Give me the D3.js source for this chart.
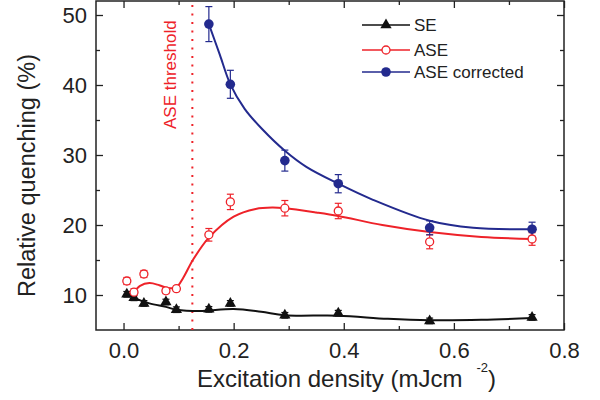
<!DOCTYPE html>
<html>
<head>
<meta charset="utf-8">
<script src="https://cdn.jsdelivr.net/npm/d3@7"></script>
<style>
  body { margin: 0; background: #fff; }
  text { font-family: "Liberation Sans", Arial, Helvetica, sans-serif; fill: #222; }
</style>
</head>
<body>
<div id="chart"></div>
<script>
// measured points (x in mJcm^-2, y in %)
const seX = [0.006, 0.019, 0.037, 0.077, 0.096, 0.155, 0.194, 0.293, 0.39, 0.556, 0.742];
const seY = [10.1, 9.6, 8.8, 9.0, 7.9, 7.95, 8.8, 7.1, 7.4, 6.3, 6.8];
const seErr = [0.4, 0.4, 0.4, 0.4, 0.4, 0.4, 0.4, 0.4, 0.4, 0.4, 0.4];

const aseX = [0.006, 0.019, 0.037, 0.077, 0.096, 0.155, 0.194, 0.293, 0.39, 0.556, 0.742];
const aseY = [12.0, 10.4, 13.0, 10.6, 10.9, 18.6, 23.3, 22.4, 22.0, 17.6, 18.0];
const aseErr = [0.5, 0.5, 0.5, 0.4, 0.4, 0.9, 1.1, 1.1, 1.1, 1.0, 0.9];

const corrX = [0.155, 0.194, 0.293, 0.39, 0.556, 0.742];
const corrY = [48.7, 40.1, 29.2, 25.9, 19.6, 19.4];
const corrErr = [2.5, 2.0, 1.5, 1.3, 1.0, 1.0];

// fitted curves
const seFitX = [0.006, 0.019, 0.047, 0.077, 0.096, 0.138, 0.2, 0.25, 0.293, 0.39, 0.48, 0.556, 0.65, 0.742];
const seFitY = [10.1, 9.6, 8.8, 8.3, 7.9, 7.7, 8.0, 7.6, 7.1, 7.05, 6.6, 6.4, 6.45, 6.7];

const aseFitX = [0.019, 0.03, 0.047, 0.065, 0.08, 0.096, 0.108, 0.126, 0.155, 0.2, 0.24, 0.27, 0.293, 0.35, 0.39, 0.47, 0.556, 0.65, 0.742];
const aseFitY = [10.4, 11.3, 11.7, 11.4, 11.0, 11.1, 12.4, 15.0, 18.2, 21.2, 22.3, 22.5, 22.4, 21.8, 21.3, 20.0, 19.0, 18.3, 18.0];

const corrFitX = [0.155, 0.175, 0.194, 0.22, 0.253, 0.293, 0.332, 0.39, 0.453, 0.556, 0.635, 0.742];
const corrFitY = [48.7, 44.3, 40.1, 36.6, 33.6, 30.6, 28.3, 25.9, 23.6, 20.6, 19.6, 19.4];

const aseThreshold = 0.125;

const xTicks = [0, 0.2, 0.4, 0.6, 0.8];
const xMinor = [0.1, 0.3, 0.5, 0.7];
const yTicks = [10, 20, 30, 40, 50];
const yMinor = [15, 25, 35, 45];

const legendNames = ["SE", "ASE", "ASE corrected"];

const black = "#111", red = "#ee2229", blue = "#232a8e";

const width = 600, height = 400;
const margin = {top: 1, right: 36, bottom: 70, left: 96};

const svg = d3.select("#chart").append("svg")
    .attr("width", width)
    .attr("height", height);

const x = d3.scaleLinear().domain([-0.05, 0.8]).range([margin.left, width - margin.right]);
const y = d3.scaleLinear().domain([5, 52]).range([height - margin.bottom, margin.top]);

const x0 = x.range()[0], x1 = x.range()[1], y0 = y.range()[0], y1 = y.range()[1];

//axes with inward ticks
const xAxis = d3.axisBottom(x).tickValues(xTicks).tickFormat(d3.format(".1f"))
    .tickSizeInner(-7).tickSizeOuter(0).tickPadding(12);
const xAxisG = svg.append("g").attr("transform", `translate(0,${y0})`).call(xAxis);
xAxisG.selectAll("text").style("font-size", "22px");

const xAxisTop = d3.axisTop(x).tickValues(xTicks).tickFormat("").tickSizeInner(-7).tickSizeOuter(0);
svg.append("g").attr("transform", `translate(0,${y1})`).call(xAxisTop);

const yAxis = d3.axisLeft(y).tickValues(yTicks).tickFormat(d3.format("d"))
    .tickSizeInner(-7).tickSizeOuter(0).tickPadding(9);
const yAxisG = svg.append("g").attr("transform", `translate(${x0},0)`).call(yAxis);
yAxisG.selectAll("text").style("font-size", "22px");

const yAxisRight = d3.axisRight(y).tickValues(yTicks).tickFormat("").tickSizeInner(-7).tickSizeOuter(0);
svg.append("g").attr("transform", `translate(${x1},0)`).call(yAxisRight);

// minor ticks
svg.append("g").call(d3.axisBottom(x).tickValues(xMinor).tickFormat("").tickSizeInner(-4).tickSizeOuter(0))
    .attr("transform", `translate(0,${y0})`);
svg.append("g").call(d3.axisTop(x).tickValues(xMinor).tickFormat("").tickSizeInner(-4).tickSizeOuter(0))
    .attr("transform", `translate(0,${y1})`);
svg.append("g").call(d3.axisLeft(y).tickValues(yMinor).tickFormat("").tickSizeInner(-4).tickSizeOuter(0))
    .attr("transform", `translate(${x0},0)`);
svg.append("g").call(d3.axisRight(y).tickValues(yMinor).tickFormat("").tickSizeInner(-4).tickSizeOuter(0))
    .attr("transform", `translate(${x1},0)`);

svg.selectAll(".domain").remove();
svg.selectAll(".tick line").attr("stroke", "#222").attr("stroke-width", 1.3);

// frame
svg.append("rect")
    .attr("x", x0).attr("y", y1)
    .attr("width", x1 - x0).attr("height", y0 - y1)
    .attr("fill", "none").attr("stroke", "#222").attr("stroke-width", 1.5);

// axis titles
const xTitle = svg.append("text")
    .attr("x", 197).attr("y", 387)
    .style("font-size", "24px");
xTitle.append("tspan").text("Excitation density (mJcm");
xTitle.append("tspan").attr("dx", 14).attr("dy", -15).style("font-size", "13px").text("-2");
xTitle.append("tspan").attr("dy", 15).text(")");

svg.append("text")
    .attr("transform", "translate(35,175.5) rotate(-90)")
    .attr("text-anchor", "middle")
    .style("font-size", "23.5px")
    .text("Relative quenching (%)");

// ASE threshold
svg.append("line")
    .attr("x1", x(aseThreshold)).attr("x2", x(aseThreshold))
    .attr("y1", y1 + 4).attr("y2", y0)
    .attr("stroke", red).attr("stroke-width", 2)
    .attr("stroke-dasharray", "2 6.5");
svg.append("text")
    .attr("transform", `translate(${x(aseThreshold) - 16},129) rotate(-90)`)
    .style("font-size", "17px")
    .style("fill", red)
    .text("ASE threshold");

// fitted lines
const line = d3.line().x(d => x(d[0])).y(d => y(d[1])).curve(d3.curveCatmullRom.alpha(0.5));
const fits = [
    {xs: seFitX, ys: seFitY, color: black},
    {xs: aseFitX, ys: aseFitY, color: red},
    {xs: corrFitX, ys: corrFitY, color: blue}
];
fits.forEach(f => {
    svg.append("path")
        .datum(d3.zip(f.xs, f.ys))
        .attr("d", line)
        .attr("fill", "none")
        .attr("stroke", f.color)
        .attr("stroke-width", 2);
});

// error bars
function errorBars(xs, ys, errs, color) {
    const g = svg.append("g").attr("stroke", color).attr("stroke-width", 1.2);
    const pts = d3.zip(xs, ys, errs);
    g.selectAll(".eb").data(pts).enter().append("line")
        .attr("x1", d => x(d[0])).attr("x2", d => x(d[0]))
        .attr("y1", d => y(d[1] - d[2])).attr("y2", d => y(d[1] + d[2]));
    g.selectAll(".capTop").data(pts).enter().append("line")
        .attr("x1", d => x(d[0]) - 3.5).attr("x2", d => x(d[0]) + 3.5)
        .attr("y1", d => y(d[1] + d[2])).attr("y2", d => y(d[1] + d[2]));
    g.selectAll(".capBot").data(pts).enter().append("line")
        .attr("x1", d => x(d[0]) - 3.5).attr("x2", d => x(d[0]) + 3.5)
        .attr("y1", d => y(d[1] - d[2])).attr("y2", d => y(d[1] - d[2]));
}
errorBars(seX, seY, seErr, black);
errorBars(aseX, aseY, aseErr, red);
errorBars(corrX, corrY, corrErr, blue);

// markers
const tri = d3.symbol().type(d3.symbolTriangle).size(55);
svg.append("g").selectAll("path").data(d3.zip(seX, seY)).enter().append("path")
    .attr("d", tri)
    .attr("transform", d => `translate(${x(d[0])},${y(d[1])})`)
    .attr("fill", black);

svg.append("g").selectAll("circle").data(d3.zip(aseX, aseY)).enter().append("circle")
    .attr("cx", d => x(d[0])).attr("cy", d => y(d[1])).attr("r", 4)
    .attr("fill", "#fff").attr("stroke", red).attr("stroke-width", 1.3);

svg.append("g").selectAll("circle").data(d3.zip(corrX, corrY)).enter().append("circle")
    .attr("cx", d => x(d[0])).attr("cy", d => y(d[1])).attr("r", 4.8)
    .attr("fill", blue);

// legend
const legendColors = [black, red, blue];
const legend = svg.append("g").attr("transform", "translate(362,25)");
legendNames.forEach((name, i) => {
    const ly = [0, 25, 47][i];
    const row = legend.append("g").attr("transform", `translate(0,${ly})`);
    row.append("line").attr("x1", 0).attr("x2", 48).attr("y1", 0).attr("y2", 0)
        .attr("stroke", legendColors[i]).attr("stroke-width", 1.5);
    if (i === 0) {
        row.append("path").attr("d", tri).attr("transform", "translate(24,0)").attr("fill", black);
    } else if (i === 1) {
        row.append("circle").attr("cx", 24).attr("r", 4).attr("fill", "#fff")
            .attr("stroke", red).attr("stroke-width", 1.3);
    } else {
        row.append("circle").attr("cx", 24).attr("r", 4.8).attr("fill", blue);
    }
    row.append("text").attr("x", 52).attr("y", 6).style("font-size", "17px").text(name);
});
</script>
</body>
</html>
